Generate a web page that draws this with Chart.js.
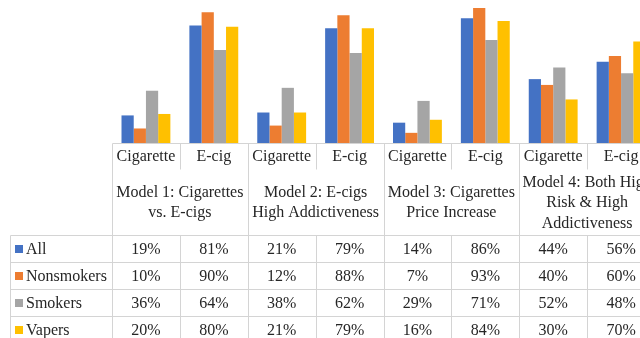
<!DOCTYPE html>
<html>
<head>
<meta charset="utf-8">
<script src="https://cdn.jsdelivr.net/npm/chart.js@4/dist/chart.umd.min.js"></script>
<style>
  html, body { margin: 0; padding: 0; background: #fff; overflow: hidden; }
  #wrap { width: 640px; height: 338px; overflow: hidden; }
</style>
</head>
<body>
<div id="wrap"><canvas id="chart" width="660" height="338"></canvas></div>
<script>
// chart data
const categories = ['Cigarette', 'E-cig', 'Cigarette', 'E-cig', 'Cigarette', 'E-cig', 'Cigarette', 'E-cig'];
const models = [
  ['Model 1: Cigarettes', 'vs. E-cigs'],
  ['Model 2: E-cigs', 'High Addictiveness'],
  ['Model 3: Cigarettes', 'Price Increase'],
  ['Model 4: Both High', 'Risk & High', 'Addictiveness']
];
const seriesNames = ['All', 'Nonsmokers', 'Smokers', 'Vapers'];
const allVals = [19, 81, 21, 79, 14, 86, 44, 56];
const nonsmokerVals = [10, 90, 12, 88, 7, 93, 40, 60];
const smokerVals = [36, 64, 38, 62, 29, 71, 52, 48];
const vaperVals = [20, 80, 21, 79, 16, 84, 30, 70];
const colors = ['#4472C4', '#ED7D31', '#A5A5A5', '#FFC000'];

const seriesVals = [allVals, nonsmokerVals, smokerVals, vaperVals];

// table under the bars, drawn from the x scale
const dataTable = {
  id: 'dataTable',
  afterDraw(chart) {
    const ctx = chart.ctx;
    const x = chart.scales.x;
    const area = chart.chartArea;
    const w = area.width / categories.length;
    const edge = i => x.getPixelForValue(i) - w / 2;
    const top = area.bottom;
    const headBottom = top + 26;
    const rowsTop = 235;
    const rowH = 27;
    const legendLeft = 10;
    const right = edge(categories.length);

    ctx.save();
    ctx.strokeStyle = '#d4d4d4';
    ctx.lineWidth = 1;
    const line = (x1, y1, x2, y2) => {
      ctx.beginPath();
      ctx.moveTo(Math.round(x1) + 0.5, Math.round(y1) + 0.5);
      ctx.lineTo(Math.round(x2) + 0.5, Math.round(y2) + 0.5);
      ctx.stroke();
    };

    // horizontal lines
    line(edge(0), top, right, top);
    for (let r = 0; r <= seriesNames.length; r++) {
      line(legendLeft, rowsTop + r * rowH, right, rowsTop + r * rowH);
    }
    // vertical lines
    line(legendLeft, rowsTop, legendLeft, 338);
    for (let i = 0; i <= categories.length; i++) {
      const px = edge(i);
      if (i % 2 === 0) {
        line(px, top, px, 338);
      } else {
        line(px, top, px, headBottom);
        line(px, rowsTop, px, 338);
      }
    }

    ctx.fillStyle = '#262626';
    ctx.font = '16px "Liberation Serif", "Times New Roman", serif';
    ctx.textAlign = 'center';
    ctx.textBaseline = 'middle';

    // category headers
    categories.forEach((c, i) => {
      ctx.fillText(c, x.getPixelForValue(i), top + 14);
    });

    // model labels
    models.forEach((lines, m) => {
      const cx = (edge(m * 2) + edge(m * 2 + 2)) / 2;
      const mid = (headBottom + rowsTop) / 2 + 1;
      const lh = 20.5;
      lines.forEach((t, k) => {
        ctx.fillText(t, cx, mid + (k - (lines.length - 1) / 2) * lh);
      });
    });

    // rows
    seriesNames.forEach((name, r) => {
      const cy = rowsTop + r * rowH + rowH / 2 + 1;
      ctx.fillStyle = colors[r];
      ctx.fillRect(15, Math.round(cy - 5), 8, 8);
      ctx.fillStyle = '#262626';
      ctx.textAlign = 'left';
      ctx.fillText(name, 26, cy);
      ctx.textAlign = 'center';
      seriesVals[r].forEach((v, i) => {
        ctx.fillText(v + '%', x.getPixelForValue(i), cy);
      });
    });
    ctx.restore();
  }
};

const ctx = document.getElementById('chart').getContext('2d');
new Chart(ctx, {
  type: 'bar',
  data: {
    labels: categories,
    datasets: seriesNames.map((name, i) => ({
      label: name,
      data: seriesVals[i],
      backgroundColor: colors[i],
      borderWidth: 0,
      categoryPercentage: 0.72,
      barPercentage: 1
    }))
  },
  options: {
    responsive: false,
    devicePixelRatio: 1,
    animation: false,
    layout: { padding: { left: 112, right: 5, top: 0, bottom: 195 } },
    plugins: { legend: { display: false }, tooltip: { enabled: false } },
    scales: {
      x: { display: false },
      y: { display: false, min: 0, max: 98.5 }
    }
  },
  plugins: [dataTable]
});
</script>
</body>
</html>
